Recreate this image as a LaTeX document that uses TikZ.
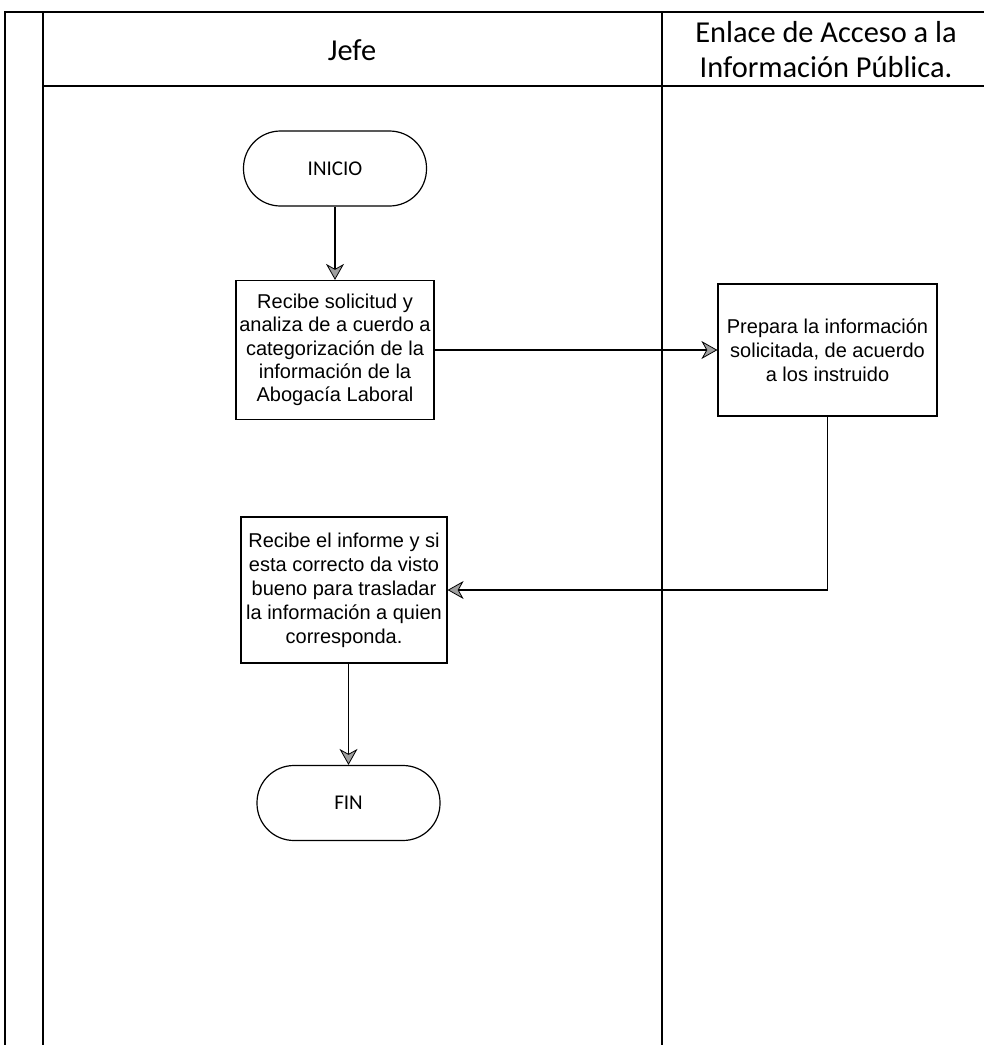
\documentclass[tikz,border=0pt]{standalone}
\usepackage{fontspec}
\setmainfont{Liberation Sans}
\newfontfamily\calibri{Carlito}
\usetikzlibrary{arrows.meta,shapes}

\begin{document}
\begin{tikzpicture}[
  carril/.style={line width=0.8bp},
  titulo/.style={align=center,font=\calibri\fontsize{15.2bp}{17.5bp}\selectfont},
  caja/.style={draw,line width=0.6bp,align=center,inner sep=1bp,font=\fontsize{10bp}{12bp}\selectfont},
  terminal/.style={draw,line width=0.6bp,rounded corners=18.5bp,minimum width=91.5bp,minimum height=37.5bp,font=\calibri\fontsize{10.5bp}{12bp}\selectfont},
  flecha/.style={-{Stealth[length=8bp,width=9bp,inset=2.5bp,line width=0.4bp,fill=gray!75]},line width=0.8bp}
]
\useasboundingbox (0bp,0bp) rectangle (492bp,-522.5bp);

% carriles
\draw [carril] (2.5bp,-522.5bp) -- (2.5bp,-6bp) -- (492bp,-6bp);
\draw [carril] (21.5bp,-522.5bp) -- (21.5bp,-6bp);
\draw [carril] (21.5bp,-43bp) -- (492bp,-43bp);
\draw [carril] (331bp,-522.5bp) -- (331bp,-6bp);

\node (jefe) at (176bp,-25bp)[titulo] {Jefe};
\node (enlace) at (413bp,-24.75bp)[titulo] {Enlace de Acceso a la\\Información Pública.};

% actividades
\node (inicio) at (167.5bp,-84.25bp)[terminal] {INICIO};
\node (recibe1) at (167.5bp,-175bp)[caja,minimum width=99bp,minimum height=69.5bp,font=\fontsize{10bp}{11.6bp}\selectfont] {Recibe solicitud y\\analiza de a cuerdo a\\categorización de la\\información de la\\Abogacía Laboral};
\node (prepara) at (413.75bp,-175bp)[caja,minimum width=109.5bp,minimum height=66bp] {Prepara la información\\solicitada, de acuerdo\\a los instruido};
\node (recibe2) at (172bp,-295bp)[caja,minimum width=103bp,minimum height=73bp] {Recibe el informe y si\\esta correcto da visto\\bueno para trasladar\\la información a quien\\corresponda.};
\node (fin) at (174.25bp,-401.5bp)[terminal] {FIN};

\draw [flecha] (inicio) -- (recibe1);
\draw [flecha] (recibe1) -- (prepara);
\draw [flecha] (prepara.south) |- (recibe2.east);
\draw [flecha] (recibe2.south -| fin.north) -- (fin.north);
\end{tikzpicture}
\end{document}
